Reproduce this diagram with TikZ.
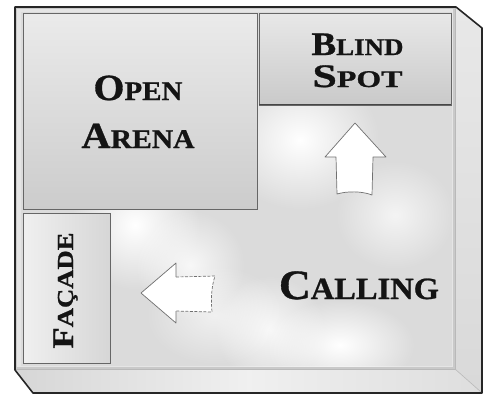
\documentclass[tikz,border=0pt]{standalone}
\usepackage{fontspec}
\setmainfont[BoldFeatures={FakeBold=0.8}]{Liberation Serif}
\usetikzlibrary{fadings}
\tikzfading[name=softspot, inner color=transparent!0, outer color=transparent!100]
\newcommand\fsz[1]{\fontsize{#1}{#1}\selectfont}
\newcommand\wfit[2]{\resizebox{#1bp}{\height}{#2}}
\definecolor{ink}{HTML}{141414}
\definecolor{edge}{HTML}{262626}
\definecolor{boxline}{HTML}{666666}
\definecolor{arrline}{HTML}{707070}
\begin{document}
\begin{tikzpicture}[x=1bp,y=-1bp,
  lbl/.style={inner sep=0pt, text=ink, font=\bfseries, anchor=base},
  panelbox/.style={draw=boxline, line width=0.8bp},
  arrowline/.style={draw=arrline, line width=0.7bp, line join=round},
  dashline/.style={draw=arrline, line width=0.7bp, dash pattern=on 3bp off 1.5bp},
  glow/.style={fill=white, path fading=softspot}]
\useasboundingbox (0,0) rectangle (483,396);
% side faces
\shade[top color=gray!18, bottom color=gray!30] (455,7) -- (482,28) -- (482,393) -- (455,369) -- cycle;
\shade[left color=gray!32, right color=gray!26, middle color=gray!12] (15,369) -- (455,369) -- (482,393) -- (33,393) -- cycle;
% front frame band
\fill[gray!42] (15,7) rectangle (455,369);
\fill[gray!20] (17,9) rectangle (453,367);
% inner panel with metallic look
\begin{scope}
  \clip (21,12) rectangle (452,366);
  \fill[gray!28] (21,12) rectangle (452,366);
  \fill[glow] (300,140) ellipse (80 and 70);
  \fill[glow] (135,225) circle (65);
  \fill[glow, opacity=0.8] (190,265) circle (55);
  \fill[glow, opacity=0.8] (270,330) circle (55);
  \fill[glow] (340,345) ellipse (75 and 45);
  \fill[glow, opacity=0.7] (395,215) ellipse (60 and 55);
  \fill[glow, opacity=0.6] (215,315) ellipse (70 and 50);
\end{scope}
\draw[gray!55, line width=0.6bp] (455,8) -- (455,369) -- (16,369);
\draw[gray!55, line width=0.6bp] (455,369) -- (481,392);
% outer silhouette
\draw[edge, line width=1.6bp, line join=round] (15,7) -- (456,7) -- (482,28) -- (482,393) -- (33,393) -- (15,370) -- cycle;
% boxes
\shadedraw[top color=gray!16, bottom color=gray!40, panelbox] (23,13) rectangle (257,209);
\shadedraw[top color=gray!18, bottom color=gray!42, panelbox] (259,13) rectangle (451,105);
\draw[gray!55!black, line width=1.2bp] (259,104.5) -- (451,104.5);
\shadedraw[left color=gray!12, right color=gray!32, panelbox] (23,213) rectangle (110,363);
% texts
\node[lbl] (open) at (138,100) {\wfit{89}{\fsz{37}O\fsz{27}PEN}};
\node[lbl] (arena) at (138,148) {\wfit{113}{\fsz{37}A\fsz{27}RENA}};
\node[lbl] (blind) at (357.5,55) {\wfit{92}{\fsz{33}B\fsz{24}LIND}};
\node[lbl] (spot) at (357.5,87) {\wfit{90}{\fsz{33}S\fsz{24}POT}};
\node[lbl] (calling) at (359,299) {\wfit{160}{\fsz{42}C\fsz{31}ALLING}};
\node[lbl, rotate=90] (facade) at (73,290.5) {\wfit{116}{\fsz{30}F\fsz{23}AÇADE}};
% up arrow
\path[fill=white, arrowline] (355,123) -- (386,157) -- (373,157) -- (372,195) .. controls (362,191) and (347,191) .. (337,194) -- (336,157) -- (325,157) -- cycle;
% left arrow
\fill[white] (141,293) -- (176,263) -- (176,277) -- (215,276) .. controls (211,288) and (211,300) .. (212,312) -- (176,311) -- (176,323) -- cycle;
\draw[arrowline] (176,277) -- (176,263) -- (141,293) -- (176,323) -- (176,311);
\draw[dashline] (176,277) -- (215,276) .. controls (211,288) and (211,300) .. (212,312) -- (176,311);
\end{tikzpicture}
\end{document}
